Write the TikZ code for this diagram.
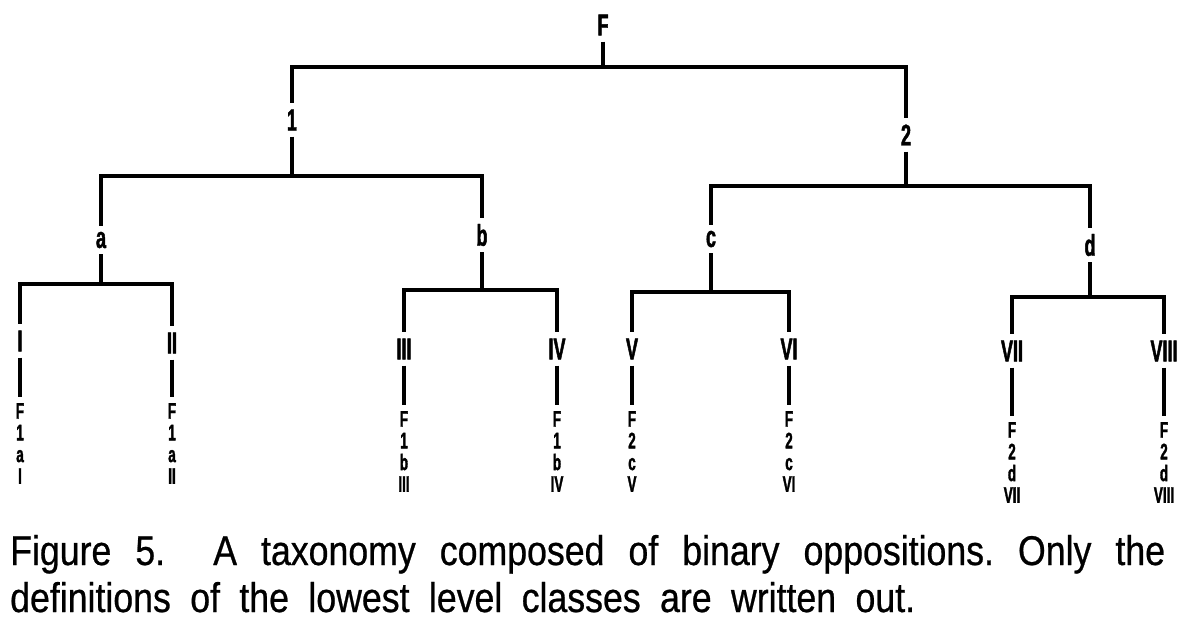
\documentclass[tikz,border=0pt]{standalone}
\usepackage{fontspec}
\newfontfamily\lab{Liberation Sans}[FakeStretch=0.6,FakeBold=1.5]
\newfontfamily\capfont{Liberation Sans}[FakeStretch=0.86,FakeBold=0.6]
\frenchspacing
\begin{document}
\begin{tikzpicture}[x=1pt,y=-1pt,
  lbl/.style={font=\lab\bfseries\fontsize{30}{30}\selectfont, inner sep=0pt},
  stk/.style={font=\lab\bfseries\fontsize{22.5}{21.7}\selectfont, align=center, inner sep=0pt, anchor=north},
  ln/.style={line width=3.5pt, black},
  gs/.style={shorten <=6pt},
  ge/.style={shorten >=6pt},
  captxt/.style={font=\capfont\fontsize{41.5}{41.5}\selectfont, inner sep=0pt, anchor=base west}]
\useasboundingbox (0,0) rectangle (1177,638);
% labels
\node[lbl] (F) at (603,25) {F};
\node[lbl] (n1) at (292,120) {1};
\node[lbl] (n2) at (906,135) {2};
\node[lbl] (a) at (101,240) {a};
\node[lbl] (b) at (482,235) {b};
\node[lbl] (c) at (711,239) {c};
\node[lbl] (d) at (1090,245) {d};
% leaves
\node[lbl] (L1) at (20,341) {I};
\node[lbl] (L2) at (172,343) {II};
\node[lbl] (L3) at (404,349) {III};
\node[lbl] (L4) at (557,349) {IV};
\node[lbl] (L5) at (632,349) {V};
\node[lbl] (L6) at (789,349) {VI};
\node[lbl] (L7) at (1012,351) {VII};
\node[lbl] (L8) at (1164,351) {VIII};
% definitions
\node[stk] (S1) at (20,403) {F\\1\\a\\I};
\node[stk] (S2) at (172,403) {F\\1\\a\\II};
\node[stk] (S3) at (404,411) {F\\1\\b\\III};
\node[stk] (S4) at (557,411) {F\\1\\b\\IV};
\node[stk] (S5) at (632,411) {F\\2\\c\\V};
\node[stk] (S6) at (789,411) {F\\2\\c\\VI};
\node[stk] (S7) at (1012,422) {F\\2\\d\\VII};
\node[stk] (S8) at (1164,422) {F\\2\\d\\VIII};
% junctions
\coordinate (jF) at (603,67);
\coordinate (j1) at (292,176);
\coordinate (j2) at (906,186);
\coordinate (ja) at (101,284);
\coordinate (jb) at (482,290);
\coordinate (jc) at (711,292);
\coordinate (jd) at (1090,297);
% connectors
\draw[ln,gs] (F) -- (jF);
\draw[ln,ge] (jF) -| (n1);
\draw[ln,ge] (jF) -| (n2);
\draw[ln,gs] (n1) -- (j1);
\draw[ln,ge] (j1) -| (a);
\draw[ln,ge] (j1) -| (b);
\draw[ln,gs] (n2) -- (j2);
\draw[ln,ge] (j2) -| (c);
\draw[ln,ge] (j2) -| (d);
\draw[ln,gs] (a) -- (ja);
\draw[ln,ge] (ja) -| (L1);
\draw[ln,ge] (ja) -| (L2);
\draw[ln,gs] (b) -- (jb);
\draw[ln,ge] (jb) -| (L3);
\draw[ln,ge] (jb) -| (L4);
\draw[ln,gs] (c) -- (jc);
\draw[ln,ge] (jc) -| (L5);
\draw[ln,ge] (jc) -| (L6);
\draw[ln,gs] (d) -- (jd);
\draw[ln,ge] (jd) -| (L7);
\draw[ln,ge] (jd) -| (L8);
\foreach \i in {1,...,8} {\draw[ln,gs,ge] (L\i) -- (S\i);}
% caption
\node[captxt] (cap1) at (10,565) {\makebox[1155pt][s]{Figure 5.\ \ A taxonomy composed of binary oppositions. Only the}};
\node[captxt] (cap2) at (10,612) {\makebox[905pt][s]{definitions of the lowest level classes are written out.}};
\end{tikzpicture}
\end{document}
